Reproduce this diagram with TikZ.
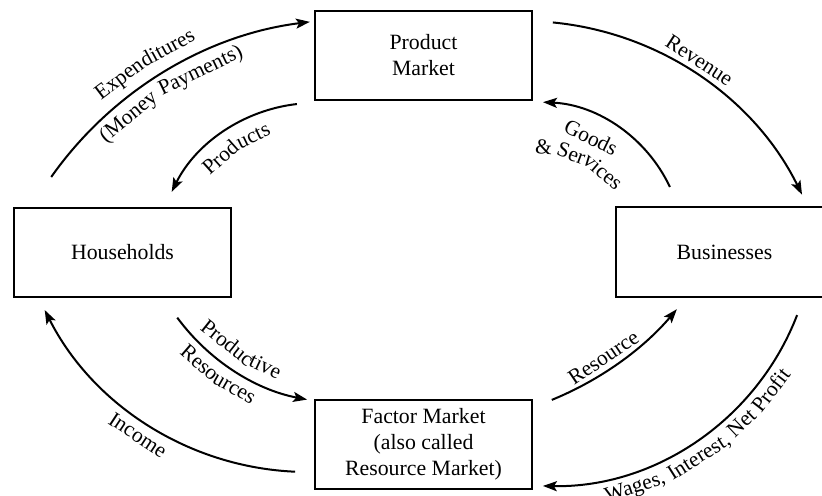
\documentclass[tikz,border=0pt]{standalone}
\usepackage{fontspec}
\setmainfont{Liberation Serif}
\usetikzlibrary{arrows.meta,calc}
\newcommand\boxfont{\fontsize{21.8bp}{26bp}\selectfont}
\newcommand\lblfont{\fontsize{21.5bp}{25bp}\selectfont}
% word on an arc: #1 name, #2 centre, #3 baseline radius, #4 angle, #5 text
% letters pointing outward
\newcommand\wout[5]{\node[lbl, rotate={-1*(#4)-90}] (#1) at ($(#2)+(#4:#3)$) {#5};}
% letters pointing inward
\newcommand\win[5]{\node[lbl, rotate={90-1*(#4)}] (#1) at ($(#2)+(#4:#3)$) {#5};}
\begin{document}
\begin{tikzpicture}[x=1bp,y=-1bp,
  mkt/.style={draw, line width=2bp, minimum width=217bp, minimum height=89bp,
    align=center, font=\boxfont, inner sep=0pt},
  lbl/.style={font=\lblfont, inner sep=0pt, anchor=base},
  flow/.style={line width=2bp, -{Stealth[length=14bp,width=10bp,inset=3bp]}}]
\useasboundingbox (0,0) rectangle (822,496);
\fill[white] (0,0) rectangle (822,496);

% boxes
\node[mkt] (pm) at (423.5,55.5) {Product\\Market};
\node[mkt] (hh) at (122.5,252.5) {Households};
\node[mkt] (bz) at (724.5,252) {Businesses};
\node[mkt] (fm) at (423.5,444.5) {Factor Market\\(also called\\Resource Market)};

% arc centres
\coordinate (c1) at (356,392);
\coordinate (c2) at (315,263);
\coordinate (c3) at (523,332);
\coordinate (c4) at (536,250);
\coordinate (c5) at (308,177);
\coordinate (c6) at (346.5,193.3);
\coordinate (c7) at (429,99);
\coordinate (c8) at (548,219);

% arrow start points
\coordinate (s1) at ($(c1)+(215.2:373)$);
\coordinate (s2) at ($(c2)+(263.5:160)$);
\coordinate (s3) at ($(c3)+(-84.5:311)$);
\coordinate (s4) at ($(c4)+(-25.2:148)$);
\coordinate (s5) at ($(c5)+(92.5:295)$);
\coordinate (s6) at ($(c6)+(143.7:210)$);
\coordinate (s7) at ($(c7)+(67.8:325)$);
\coordinate (s8) at ($(c8)+(21.1:267)$);

% arrows
\draw[flow] (s1) arc[start angle=215.2, end angle=262.9, radius=373];
\draw[flow] (s2) arc[start angle=263.5, end angle=206.4, radius=160];
\draw[flow] (s3) arc[start angle=-84.5, end angle=-26.2, radius=311];
\draw[flow] (s4) arc[start angle=-25.2, end angle=-87.3, radius=148];
\draw[flow] (s5) arc[start angle=92.5, end angle=153.2, radius=295];
\draw[flow] (s6) arc[start angle=143.7, end angle=100.8, radius=210];
\draw[flow] (s7) arc[start angle=67.8, end angle=40.3, radius=325];
\draw[flow] (s8) arc[start angle=21.1, end angle=91.1, radius=267];

% labels
\wout{la1}{c1}{386}{232.87}{Expen}
\wout{la2}{c1}{386}{241.29}{ditures}
\wout{lb1}{c1}{351}{230.4}{(Money}
\wout{lb2}{c1}{351}{244.2}{Payments)}
\wout{lc1}{c2}{135}{228.16}{Prod}
\wout{lc2}{c2}{135}{244.1}{ucts}
\wout{ld}{c3}{317}{-57}{Revenue}
\wout{le}{c4}{118}{-63.9}{Goods}
\wout{lf1}{c4}{96}{-85.7}{\&}
\wout{lf2}{c4}{96}{-69.9}{Ser}
\wout{lf3}{c4}{96}{-49.5}{vices}
\win{lg}{c5}{316}{123.4}{Income}
\win{lh1}{c6}{198}{128.55}{Produc}
\win{lh2}{c6}{198}{115.08}{tive}
\win{li1}{c6}{231}{130.9}{Reso}
\win{li2}{c6}{231}{119.96}{urces}
\win{lj}{c7}{319}{56}{Resource}
\win{lk1}{c8}{288}{72.0}{Wages,}
\win{lk2}{c8}{288}{57.6}{Interest,}
\win{lk3}{c8}{288}{46.5}{Net}
\win{lk4}{c8}{288}{37.56}{Profit}
\end{tikzpicture}
\end{document}
